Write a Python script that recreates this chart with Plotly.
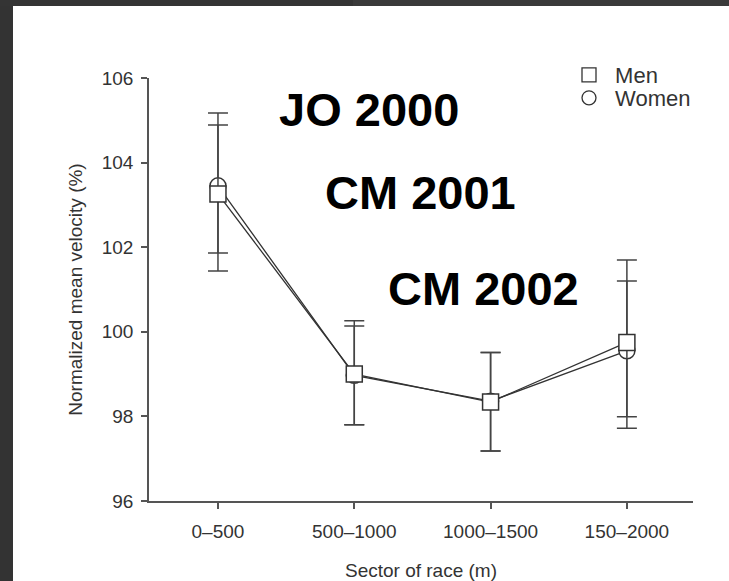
import plotly.graph_objects as go

# Race sectors and normalized mean velocity (%) with SD bounds
sectors = ["0–500", "500–1000", "1000–1500", "150–2000"]

men_mean = [103.26, 99.00, 98.34, 99.75]
men_upper = [105.17, 100.26, 99.51, 101.70]
men_lower = [101.44, 97.80, 97.18, 97.72]

women_mean = [103.45, 98.97, 98.36, 99.55]
women_upper = [104.89, 100.14, 99.51, 101.20]
women_lower = [101.86, 97.80, 97.18, 97.99]

competitions = ["JO 2000", "CM 2001", "CM 2002"]
y_ticks = [96, 98, 100, 102, 104, 106]

W, H = 729, 581
ML, MR, MT, MB = 149, 36, 78, 80
PW, PH = W - ML - MR, H - MT - MB


def px_to_paper(px, py):
    return (px - ML) / PW, (H - MB - py) / PH


INK = "#333333"
FONT = "Liberation Sans, Arial, Helvetica, sans-serif"

fig = go.Figure()


def add_series(name, means, upper, lower, symbol):
    fig.add_trace(go.Scatter(
        x=sectors, y=means, mode="lines+markers", name=name, showlegend=False,
        line=dict(color=INK, width=1.3),
        marker=dict(symbol=symbol, size=16, color="white",
                    line=dict(color=INK, width=1.5)),
        error_y=dict(type="data", symmetric=False,
                     array=[u - m for u, m in zip(upper, means)],
                     arrayminus=[m - l for m, l in zip(means, lower)],
                     color="#444444", thickness=1.5, width=10),
    ))


# women first so the men's squares sit on top
add_series("Women", women_mean, women_upper, women_lower, "circle")
add_series("Men", men_mean, men_upper, men_lower, "square")

# legend entries (symbols only), one legend box per entry
for name, symbol, lg in [("Men", "square", "legend"), ("Women", "circle", "legend2")]:
    fig.add_trace(go.Scatter(
        x=[None], y=[None], mode="markers", name="\u00a0" + name, legend=lg,
        marker=dict(symbol=symbol, size=14, color="white",
                    line=dict(color=INK, width=1.3)),
    ))

# competition labels
label_pos = [(369, 109), (420, 193), (483, 288)]
for text, (px, py) in zip(competitions, label_pos):
    ax, ay = px_to_paper(px, py)
    fig.add_annotation(x=ax, y=ay, xref="paper", yref="paper", text=f"<b>{text}</b>",
                       xanchor="center", yanchor="middle", showarrow=False,
                       font=dict(family=FONT, size=47, color="black"))

# dark surround on the left and top edges
fx0, fy_top = px_to_paper(-5, -5)
fx_left, _ = px_to_paper(13, 0)
_, fy_band = px_to_paper(0, 6)
fx_mid, _ = px_to_paper(353, 0)
fx_right, fy_bottom = px_to_paper(W + 60, H + 60)
fig.add_shape(type="rect", xref="paper", yref="paper", x0=fx0, x1=fx_left,
              y0=fy_bottom, y1=fy_top, fillcolor="#333333", line=dict(width=0),
              layer="below")
fig.add_shape(type="rect", xref="paper", yref="paper", x0=fx0, x1=fx_mid,
              y0=fy_band, y1=fy_top, fillcolor="#343434", line=dict(width=0),
              layer="below")
fig.add_shape(type="rect", xref="paper", yref="paper", x0=fx_mid, x1=fx_right,
              y0=fy_band, y1=fy_top, fillcolor="#3a3a3a", line=dict(width=0),
              layer="below")


def legend_box(py):
    return dict(x=(569 - ML) / PW, y=(H - MB - py) / PH, xanchor="left", yanchor="top",
                bgcolor="rgba(0,0,0,0)", font=dict(size=22, color=INK),
                itemsizing="trace")


fig.update_layout(
    width=W, height=H,
    margin=dict(l=ML, r=MR, t=MT, b=MB, autoexpand=False),
    paper_bgcolor="white", plot_bgcolor="white",
    font=dict(family=FONT, size=19, color=INK),
    legend=legend_box(54),
    legend2=legend_box(77),
    xaxis=dict(type="category", categoryorder="array", categoryarray=sectors,
               range=[-0.506, 3.485], showline=True, linecolor="#555555", linewidth=1.5,
               ticks="outside", ticklen=6, tickwidth=1.5, tickcolor="#555555",
               ticklabelstandoff=6, showgrid=False, zeroline=False,
               title=dict(text="Sector of race (m)", standoff=24,
                          font=dict(size=19, color=INK))),
    yaxis=dict(range=[96, 106], tickvals=y_ticks, showline=True, linecolor="#555555",
               linewidth=1.5, ticks="outside", ticklen=6, tickwidth=1.5,
               tickcolor="#555555", ticklabelstandoff=4, showgrid=False, zeroline=False,
               title=dict(text="Normalized mean velocity (%)", standoff=14,
                          font=dict(size=19, color=INK))),
)

fig.write_html(
    "out.html",
    post_script="document.documentElement.style.overflow='hidden';"
                "document.body.style.overflow='hidden';",
)
